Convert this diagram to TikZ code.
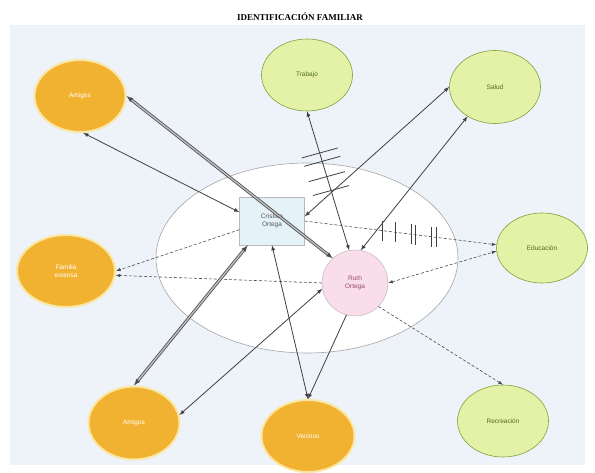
\documentclass[tikz,border=0pt]{standalone}
\usepackage{fontspec}
\setmainfont{Liberation Sans}
\newfontfamily\titlefont{Liberation Serif}
\usetikzlibrary{shapes.geometric}
\definecolor{panel}{HTML}{EEF2F9}
\definecolor{naranja}{HTML}{F1B232}
\definecolor{glow}{HTML}{FBE7A4}
\definecolor{verde}{HTML}{E3F2A6}
\definecolor{verdeborde}{HTML}{7FA23C}
\definecolor{verdetexto}{HTML}{4E6B1C}
\definecolor{caja}{HTML}{E5F2F7}
\definecolor{rosa}{HTML}{F9DDEA}
\begin{document}
\begin{tikzpicture}[x=1pt,y=-1pt,>=latex,
  externo/.style={ellipse,fill=naranja,draw=glow,line width=2pt,text=white,
    minimum width=91pt,minimum height=72pt,inner sep=0pt,align=center,
    font=\fontsize{6.5}{7.5}\selectfont},
  recurso/.style={ellipse,fill=verde,draw=verdeborde,line width=0.6pt,text=verdetexto,
    minimum width=91pt,minimum height=72pt,inner sep=0pt,
    font=\fontsize{6.5}{7.5}\selectfont},
  vinculo/.style={draw=black!75,line width=0.8pt},
  fuerte/.style={draw=black!70,double=gray!50,double distance=1.4pt,line width=0.8pt},
  debil/.style={draw=gray!60!black,dash pattern=on 3pt off 2pt,line width=0.6pt}]
\useasboundingbox (0,0) rectangle (595,473);
\fill[white] (0,0) rectangle (595,473);
\fill[panel] (10,25) rectangle (585,465);
\node[font=\titlefont\bfseries\fontsize{9}{10}\selectfont] (titulo) at (300,17) {IDENTIFICACIÓN FAMILIAR};
% hogar
\draw[gray!70,fill=white,line width=0.6pt] (307,258) ellipse [x radius=151, y radius=95];
% sistemas externos
\node[externo] (amigosA) at (80,96) {Amigos};
\node[recurso] (trabajo) at (307,75) {Trabajo};
\node[recurso,minimum height=73pt] (salud) at (495,87) {Salud};
\node[externo,minimum width=98pt] (familia) at (66,271) {Familia\\extensa};
\node[recurso,minimum height=70pt] (educacion) at (542,248) {Educación};
\node[externo,minimum height=73pt] (amigosB) at (134,423) {Amigos};
\node[externo,minimum width=93pt] (vecinos) at (308,436) {Vecinos};
\node[recurso] (recreacion) at (503,421) {Recreación};
% familia
\node[draw=gray!55,fill=caja,minimum width=65pt,minimum height=48pt,align=center,
  text=gray!70!black,font=\fontsize{6.5}{7.5}\selectfont] (cristian) at (272,221) {Cristian\\Ortega};
\node[circle,draw=gray!60,fill=rosa,minimum size=66pt,align=center,
  text=purple!40!gray,font=\fontsize{6.5}{7.5}\selectfont] (ruth) at (355,283) {Ruth\\Ortega};
% relaciones
\draw[vinculo,<->] (amigosA.-85) -- (cristian.165);
\draw[fuerte,<->] (amigosA.east) -- (ruth.132);
\draw[vinculo,<->] (trabajo.south) -- (ruth.100);
\draw[vinculo,<->] (cristian.8) -- (salud.west);
\draw[vinculo,<->] (ruth.80) -- (salud.227);
\draw[debil,->] (cristian.east) -- (educacion.176);
\draw[debil,<->] (ruth.east) -- (educacion.184);
\draw[debil,->] (cristian.195) -- (familia.east);
\draw[debil,->] (ruth.west) -- (familia.-5);
\draw[fuerte,<->] (amigosB.north) -- (cristian.225);
\draw[vinculo,<->] (amigosB.10) -- (ruth.190);
\draw[vinculo,<->] (vecinos.north) -- (cristian.south);
\draw[vinculo,->] (ruth.255) -- (vecinos.north);
\draw[debil,->] (ruth.315) -- (recreacion.north);
% conflicto
\foreach \p in {0.30,0.36,0.47,0.57} {
  \path (trabajo.south) -- (ruth.100) coordinate[pos=\p] (m);
  \draw[vinculo] (m) ++(-18,5) -- ++(36,-10);
}
\foreach \p in {0.405,0.474,0.558,0.579,0.663,0.689} {
  \path (cristian.east) -- (educacion.176) coordinate[pos=\p] (m);
  \draw[vinculo] (m) ++(0,-10) -- ++(0,20);
}
\end{tikzpicture}
\end{document}
